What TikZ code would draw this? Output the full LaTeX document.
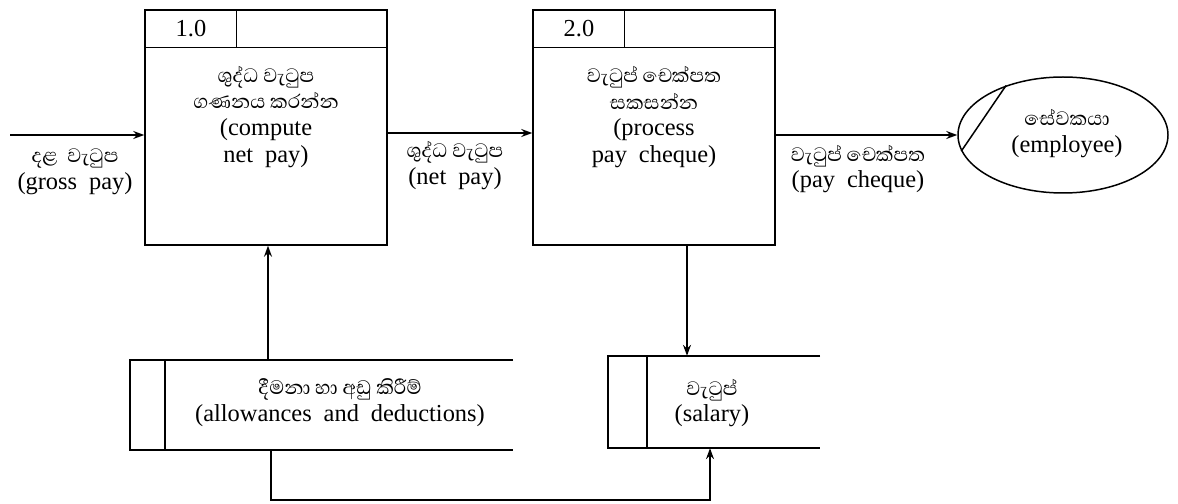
\documentclass[tikz,border=0pt]{standalone}
\usepackage{fontspec}
\setmainfont{Liberation Serif}
\newfontfamily\sinhalafont[Script=Sinhala]{Abhaya Libre}
\newcommand\sh[1]{{\sinhalafont\fontsize{25}{27}\selectfont #1}}
\newcommand\wsp{\hspace{12pt}}
\usetikzlibrary{shapes.geometric,arrows.meta}
\tikzset{
  proc/.style={rectangle, draw, line width=1.5pt, minimum width=242bp, minimum height=235bp, inner sep=0pt},
  storebox/.style={rectangle, inner sep=0pt},
  ext/.style={ellipse, draw, line width=1.5pt, minimum width=210bp, minimum height=116bp, inner sep=0pt},
  lbl/.style={align=center, font=\fontsize{24.5}{27}\selectfont, inner sep=0pt},
  edge/.style={line width=1.5pt},
  flow/.style={line width=1.3pt, -{Stealth[length=11pt,width=8pt]}}
}
\begin{document}
\begin{tikzpicture}[x=1bp,y=-1bp]
\useasboundingbox (0,0) rectangle (1178,504);
% processes
\node[proc] (p1) at (266,127.5) {};
\node[proc] (p2) at (654,127.5) {};
\draw[edge] (p1.north west) ++(0,38) -- ++(242,0);
\draw[edge] (p2.north west) ++(0,38) -- ++(242,0);
\draw[edge] (p1.north west) ++(92,0) -- ++(0,38);
\draw[edge] (p2.north west) ++(92,0) -- ++(0,38);
\node[lbl] (n1) at (191,29) {1.0};
\node[lbl] (n2) at (579,29) {2.0};
\node[lbl] (t1) at (266,117) {\sh{ශුද්ධ වැටුප}\\\sh{ගණනය කරන්න}\\(compute\\net\wsp pay)};
\node[lbl] (t2) at (654,117) {\sh{වැටුප් චෙක්පත}\\\sh{සකසන්න}\\(process\\pay\wsp cheque)};
% external entity
\node[ext] (emp) at (1063,135) {};
\draw[edge] (emp.139) -- (emp.189);
\node[lbl] (te) at (1067,134) {\sh{සේවකයා}\\(employee)};
% data stores
\node[storebox, minimum width=383bp, minimum height=90bp] (ad) at (321.5,405) {};
\draw[edge] (ad.north east) -- (ad.north west) -- (ad.south west) -- (ad.south east);
\draw[edge] (ad.north west) ++(35,0) -- ++(0,90);
\node[lbl] (tad) at (340,403) {\sh{දීමනා හා අඩු කිරීම්}\\(allowances\wsp and\wsp deductions)};
\node[storebox, minimum width=212bp, minimum height=92bp] (sal) at (714,402) {};
\draw[edge] (sal.north east) -- (sal.north west) -- (sal.south west) -- (sal.south east);
\draw[edge] (sal.north west) ++(39,0) -- ++(0,92);
\node[lbl] (tsal) at (712,403) {\sh{වැටුප්}\\(salary)};
% flows
\coordinate (gsrc) at (10,135);
\draw[flow] (gsrc) -- (gsrc -| p1.west);
\node[lbl] (lg) at (75,172) {\sh{දළ\hspace{10pt}වැටුප}\\(gross\wsp pay)};
\coordinate (ny) at (0,133);
\draw[flow] (ny -| p1.east) -- (ny -| p2.west);
\node[lbl] (ln) at (455,166) {\sh{ශුද්ධ වැටුප}\\(net\wsp pay)};
\draw[flow] (emp.west -| p2.east) -- (emp.west);
\node[lbl] (lp) at (858,169) {\sh{වැටුප් චෙක්පත}\\(pay\wsp cheque)};
\coordinate (ax) at (268,0);
\draw[flow] (ax |- ad.north) -- (ax |- p1.south);
\coordinate (sx) at (687,0);
\draw[flow] (sx |- p2.south) -- (sx |- sal.north);
\coordinate (bl) at (271,500);
\coordinate (br) at (710,500);
\draw[flow] (bl |- ad.south) -- (bl) -- (br) -- (br |- sal.south);
\end{tikzpicture}
\end{document}
